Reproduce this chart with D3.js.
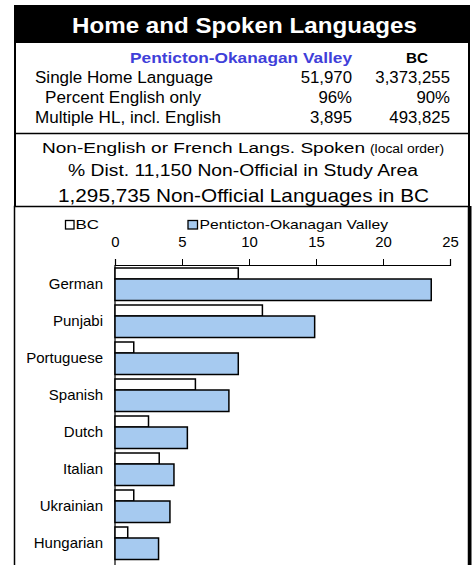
<!DOCTYPE html>
<html>
<head>
<meta charset="utf-8">
<script src="https://cdn.jsdelivr.net/npm/d3@7"></script>
<style>
  body { margin: 0; background: #fff; }
  svg { display: block; font-family: Arial, "Liberation Sans", sans-serif; }
</style>
</head>
<body>
<svg id="chart" width="476" height="565"></svg>
<script>
// summary table
const tableHeads = ["Penticton-Okanagan Valley", "BC"];
const tableRows = ["Single Home Language", "Percent English only", "Multiple HL, incl. English"];
const localVals = ["51,970", "96%", "3,895"];
const bcVals = ["3,373,255", "90%", "493,825"];

// bar chart
const languages = ["German", "Punjabi", "Portuguese", "Spanish", "Dutch", "Italian", "Ukrainian", "Hungarian"];
const bcShare = [9.2, 11.0, 1.4, 6.0, 2.5, 3.3, 1.4, 0.95];
const localShare = [23.6, 14.9, 9.2, 8.5, 5.4, 4.4, 4.1, 3.25];
const xTicks = [0, 5, 10, 15, 20, 25];

const svg = d3.select("#chart");
const blue = "#a6caf0";

// the source text is a bit wider than its height suggests, so fit widths
function label(x, y, txt, size, len, anchor = "start", weight = "normal", fill = "#000") {
    const t = svg.append("text").attr("x", x).attr("y", y)
        .attr("font-size", size).attr("font-weight", weight).attr("fill", fill)
        .attr("text-anchor", anchor).text(txt);
    if (len) t.attr("textLength", len).attr("lengthAdjust", "spacingAndGlyphs");
    return t;
}

// title bar
svg.append("rect").attr("x", 14).attr("y", 5).attr("width", 456).attr("height", 38).attr("fill", "#000");
label(72, 32.5, "Home and Spoken Languages", 22.5, 345, "start", "bold", "#fff");

// outline of the text sections
svg.append("line").attr("x1", 15).attr("x2", 15).attr("y1", 43).attr("y2", 206).attr("stroke", "#000").attr("stroke-width", 2);
svg.append("line").attr("x1", 469).attr("x2", 469).attr("y1", 43).attr("y2", 206).attr("stroke", "#000").attr("stroke-width", 2);
svg.append("line").attr("x1", 14).attr("x2", 470).attr("y1", 133.5).attr("y2", 133.5).attr("stroke", "#000").attr("stroke-width", 1.5);

// table
label(130, 63.3, tableHeads[0], 15, 222, "start", "bold", "#3f3fd9");
label(428, 63.3, tableHeads[1], 15, 22, "start", "bold");

const rowStart = [35, 45, 35];
const rowLen = [178, 156, 186];
tableRows.forEach((r, i) => {
    const y = 83.3 + i * 20;
    label(rowStart[i], y, r, 16.3, rowLen[i]);
    label(352, y, localVals[i], 16.8);
    label(450, y, bcVals[i], 16.8);
});
svg.selectAll("text").filter(function () { return +this.getAttribute("x") >= 352; })
    .attr("text-anchor", "end");

// subtitle lines
label(42, 152.7, "Non-English or French Langs. Spoken", 15.5, 323);
label(370, 152.7, "(local order)", 12.5, 74);
label(68, 176.3, "% Dist. 11,150 Non-Official in Study Area", 15.8, 350);
label(58, 202.3, "1,295,735 Non-Official Languages in BC", 18.5, 371);

// chart frame
svg.append("rect").attr("x", 14.5).attr("y", 206.5).attr("width", 454).attr("height", 370)
    .attr("fill", "none").attr("stroke", "#000").attr("stroke-width", 1.5);
svg.append("line").attr("x1", 470).attr("x2", 470).attr("y1", 206).attr("y2", 565).attr("stroke", "#000").attr("stroke-width", 3);

// legend
svg.append("rect").attr("x", 65.5).attr("y", 220.5).attr("width", 8.5).attr("height", 8.5)
    .attr("fill", "#fff").attr("stroke", "#000").attr("stroke-width", 1.3);
label(75.5, 229, "BC", 13, 23.5);
svg.append("rect").attr("x", 188).attr("y", 220.5).attr("width", 9.5).attr("height", 8.5)
    .attr("fill", blue).attr("stroke", "#000").attr("stroke-width", 1.3);
label(199.5, 229, "Penticton-Okanagan Valley", 13.5, 188.5);

// scales
const x = d3.scaleLinear().domain([0, 25]).range([115, 450]);
const y = d3.scaleBand().domain(languages).range([265, 561]);

const axis = svg.append("g").attr("transform", "translate(0,265)")
    .call(d3.axisTop(x).tickValues(xTicks).tickSize(6).tickPadding(12));
axis.select(".domain").attr("stroke", "#000").attr("stroke-width", 1.2);
axis.selectAll(".tick line").attr("stroke", "#000");
axis.selectAll(".tick text").attr("font-size", 14.5).attr("fill", "#000")
    .attr("font-family", "Arial, 'Liberation Sans', sans-serif")
    .attr("textLength", d => d < 10 ? 8.3 : 16.6).attr("lengthAdjust", "spacingAndGlyphs");

// vertical category axis line
svg.append("line").attr("x1", x(0)).attr("x2", x(0)).attr("y1", 265).attr("y2", 565).attr("stroke", "#000").attr("stroke-width", 1.2);

const groups = svg.append("g").selectAll("g").data(languages).join("g")
    .attr("transform", d => `translate(0,${y(d)})`);

groups.append("rect").attr("x", x(0)).attr("y", 3).attr("height", 11)
    .attr("width", (d, i) => x(bcShare[i]) - x(0))
    .attr("fill", "#fff").attr("stroke", "#000").attr("stroke-width", 1.5);
groups.append("rect").attr("x", x(0)).attr("y", 14).attr("height", 21.5)
    .attr("width", (d, i) => x(localShare[i]) - x(0))
    .attr("fill", blue).attr("stroke", "#000").attr("stroke-width", 1.5);
groups.append("text").attr("x", 103).attr("y", 24.3)
    .attr("text-anchor", "end").attr("font-size", 15).text(d => d);
</script>
</body>
</html>
